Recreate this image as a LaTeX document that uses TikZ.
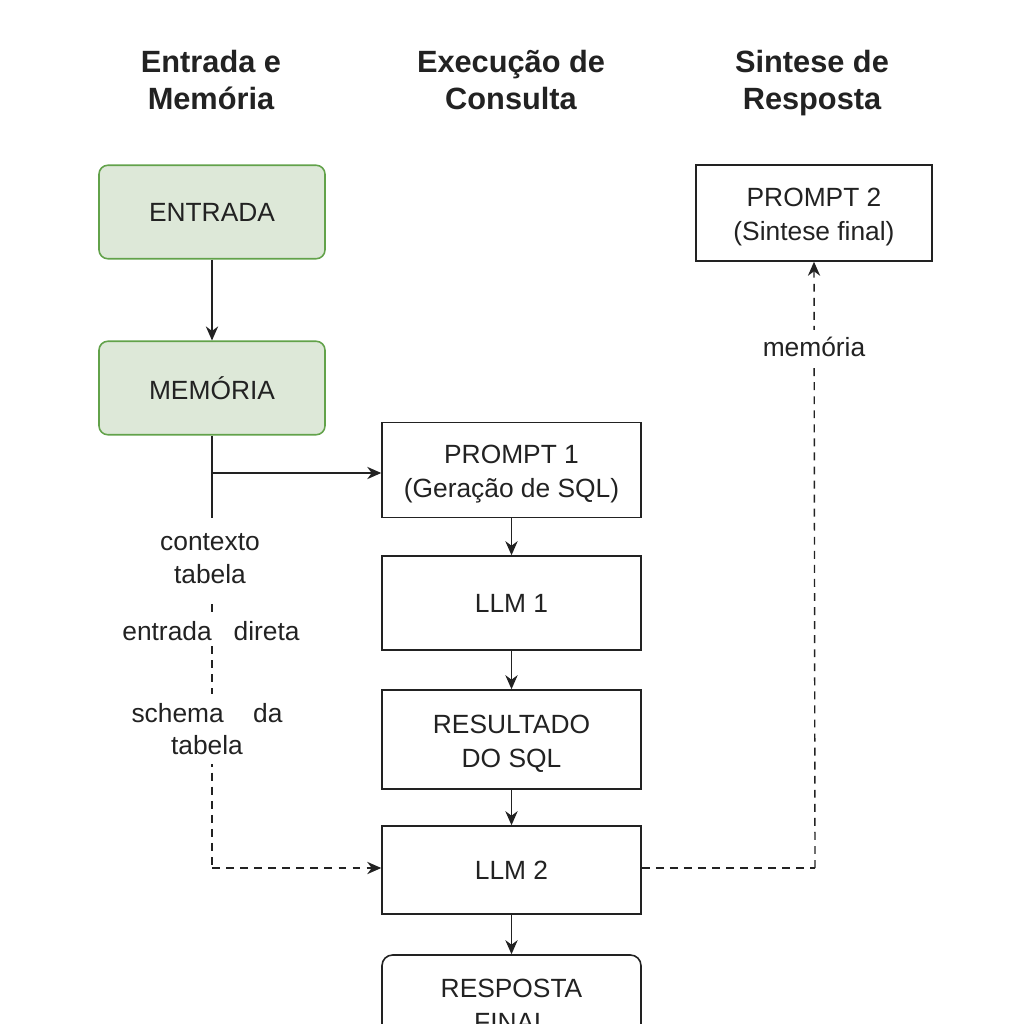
\documentclass[tikz,border=0pt]{standalone}
\usepackage{fontspec}
\setmainfont{Liberation Sans}
\usetikzlibrary{arrows.meta,positioning}
\definecolor{gfill}{HTML}{DDE8D8}
\definecolor{gline}{HTML}{62A24A}
\definecolor{ink}{HTML}{222222}
\newcommand\mytopstrut{\rule{0pt}{15.3pt}}
\tikzset{
  box/.style={draw=ink, line width=0.9pt, minimum width=5.18cm, minimum height=1.9cm, align=center, font=\fontsize{15}{19.5}\selectfont, text=ink, inner sep=0pt},
  gbox/.style={draw=gline, fill=gfill, line width=0.9pt, rounded corners=5pt, minimum width=4.52cm, minimum height=1.87cm, align=center, font=\fontsize{15}{19.5}\selectfont, text=ink, inner sep=0pt},
  hdr/.style={align=center, font=\bfseries\fontsize{17.5}{21}\selectfont, text=ink},
  lbl/.style={align=center, font=\fontsize{15}{18.7}\selectfont, text=ink, fill=white, inner sep=2pt},
  arr/.style={draw=ink, line width=0.8pt, -{Stealth[length=8pt,width=7pt]}},
  dashln/.style={draw=ink, line width=0.8pt, dash pattern=on 4.5pt off 3.5pt}
}
\begin{document}
\begin{tikzpicture}[x=0.02cm,y=-0.02cm]
\useasboundingbox (0,0) rectangle (1024,1024);
\clip (0,0) rectangle (1024,1024);
\fill[white] (0,0) rectangle (1024,1024);
% headers
\node[hdr] (h1) at (211,84) {Entrada e\strut\\Memória\strut};
\node[hdr] (h2) at (511,84) {Execução de\strut\\Consulta\strut};
\node[hdr] (h3) at (812,84) {Sintese de\strut\\Resposta\strut};
% boxes
\node[gbox] (entrada) at (212,212) {ENTRADA};
\node[gbox] (memoria) at (212,388) {MEMÓRIA};
\node[box] (p1) at (511.5,470) {\mytopstrut PROMPT 1\\(Geração de SQL)};
\node[box, minimum height=1.88cm] (llm1) at (511.5,603) {LLM 1};
\node[box, minimum height=1.98cm] (res) at (511.5,739.5) {\mytopstrut RESULTADO\\DO SQL};
\node[box, minimum height=1.76cm] (llm2) at (511.5,870) {LLM 2};
\node[box, rounded corners=6pt, minimum height=2.0cm] (resp) at (511.5,1005) {RESPOSTA\\FINAL};
\node[box, minimum width=4.72cm, minimum height=1.92cm] (p2) at (814,213) {\mytopstrut PROMPT 2\\(Sintese final)};
% connectors
\draw[arr] (entrada) -- (memoria);
\coordinate (mbot) at (212,518);
\draw[draw=ink, line width=0.8pt] (memoria.south) -- (mbot);
\draw[arr] (212,473) -- (p1.west |- 212,473);
\coordinate (lturn) at (212,868);
\draw[dashln] (212,604) -- (lturn);
\draw[arr, dashln] (lturn) -- (llm2.west |- lturn);
\draw[arr] (p1) -- (llm1);
\draw[arr] (llm1) -- (res);
\draw[arr] (res) -- (llm2);
\draw[arr] (llm2) -- (resp);
\coordinate (rturn) at (815,868);
\draw[dashln] (llm2.east |- rturn) -- (rturn);
\draw[arr, dashln] (rturn) -- (p2.south);
% labels
\node[lbl] (l1) at (210,559) {contexto\\tabela};
\node[lbl] (l2) at (211,631) {entrada\ \ \ direta};
\node[lbl, inner ysep=5pt] (l3) at (207,729) {schema\ \ \ \ da\\tabela};
\node[lbl, inner ysep=4pt] (l4) at (814,347) {memória};
\end{tikzpicture}
\end{document}
